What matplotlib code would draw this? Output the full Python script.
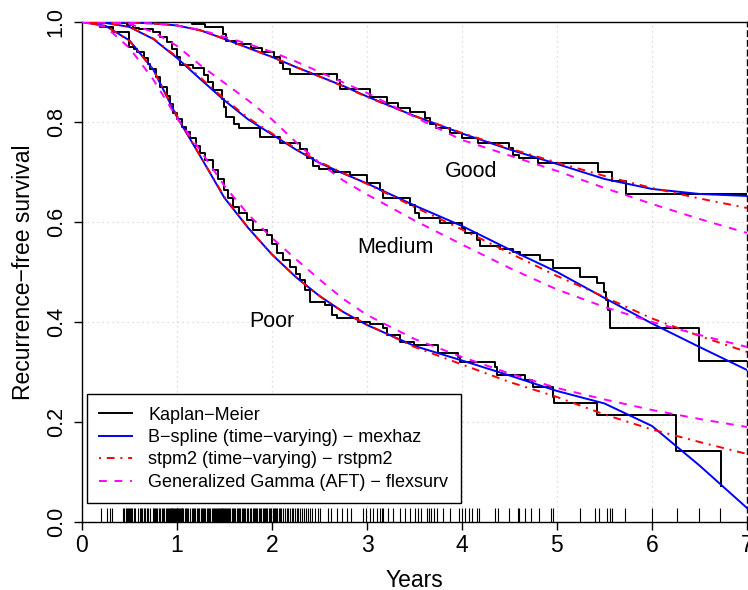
import numpy as np
import matplotlib.pyplot as plt

plt.rcParams['font.family'] = ['Liberation Sans', 'DejaVu Sans']

# Kaplan-Meier step curves (time, survival after the step)
km_good_t = [0, 1.16, 1.29, 1.48, 1.52, 1.62, 1.78, 1.9, 2.02, 2.08, 2.12, 2.19, 2.68, 2.72, 3.03, 3.21,
             3.33, 3.45, 3.61, 3.66, 3.73, 3.87, 4.0, 4.17, 4.49, 4.54, 4.6, 4.8, 5.43, 5.58, 5.73, 7.0]
km_good_s = [1.0, 0.996, 0.99, 0.975, 0.962, 0.955, 0.948, 0.94, 0.93, 0.918, 0.905, 0.895, 0.884, 0.866,
             0.85, 0.838, 0.828, 0.82, 0.808, 0.795, 0.788, 0.778, 0.768, 0.758, 0.748, 0.734, 0.728, 0.718,
             0.7, 0.682, 0.656, 0.656]

km_med_t = [0, 0.2, 0.47, 0.54, 0.6, 0.75, 0.82, 0.89, 0.95, 1.0, 1.03, 1.17, 1.28, 1.33, 1.38, 1.47, 1.5,
            1.52, 1.6, 1.65, 1.87, 2.08, 2.3, 2.37, 2.43, 2.5, 2.64, 2.82, 3.0, 3.14, 3.17, 3.45, 3.51, 3.55,
            3.77, 4.0, 4.03, 4.16, 4.19, 4.4, 4.54, 4.61, 4.82, 4.96, 5.24, 5.42, 5.5, 5.52, 5.54, 5.56,
            6.49, 7.0]
km_med_s = [1.0, 0.997, 0.993, 0.988, 0.985, 0.98, 0.97, 0.96, 0.945, 0.93, 0.914, 0.908, 0.894, 0.88,
            0.864, 0.845, 0.83, 0.81, 0.795, 0.788, 0.77, 0.758, 0.745, 0.728, 0.712, 0.705, 0.7, 0.694,
            0.678, 0.664, 0.648, 0.634, 0.618, 0.608, 0.598, 0.588, 0.578, 0.564, 0.552, 0.546, 0.54,
            0.534, 0.524, 0.508, 0.49, 0.478, 0.46, 0.444, 0.424, 0.388, 0.322, 0.322]

km_poor_t = [0, 0.19, 0.33, 0.49, 0.55, 0.58, 0.65, 0.7, 0.72, 0.78, 0.82, 0.89, 0.93, 0.96, 1.0, 1.05,
             1.1, 1.14, 1.2, 1.24, 1.3, 1.38, 1.43, 1.49, 1.54, 1.59, 1.65, 1.74, 1.8, 1.95, 2.0, 2.05,
             2.12, 2.19, 2.25, 2.29, 2.35, 2.4, 2.56, 2.63, 2.68, 2.91, 3.03, 3.17, 3.21, 3.35, 3.49,
             3.75, 3.96, 3.98, 4.35, 4.37, 4.66, 4.74, 4.75, 4.96, 4.97, 5.42, 6.25, 6.73]
km_poor_s = [1.0, 0.99, 0.98, 0.95, 0.945, 0.94, 0.928, 0.915, 0.905, 0.89, 0.87, 0.852, 0.835, 0.818,
             0.805, 0.79, 0.78, 0.768, 0.752, 0.738, 0.724, 0.704, 0.685, 0.664, 0.648, 0.63, 0.618,
             0.604, 0.584, 0.574, 0.556, 0.538, 0.524, 0.51, 0.495, 0.484, 0.464, 0.44, 0.434, 0.414,
             0.408, 0.4, 0.395, 0.388, 0.374, 0.36, 0.354, 0.338, 0.33, 0.32, 0.31, 0.294, 0.284, 0.278,
             0.27, 0.25, 0.238, 0.214, 0.141, 0.071]

# fitted model curves, read on a common time grid
fit_t = [0, 0.25, 0.5, 0.75, 1, 1.25, 1.5, 1.75, 2, 2.25, 2.5, 2.75, 3, 3.5, 4, 4.5, 5, 5.5, 6, 6.5, 7]

bspl_good = [1, 1, 0.999, 0.997, 0.993, 0.983, 0.966, 0.948, 0.93, 0.91, 0.891, 0.872, 0.851, 0.812,
             0.777, 0.745, 0.716, 0.686, 0.666, 0.656, 0.652]
bspl_med = [1, 0.998, 0.99, 0.966, 0.928, 0.885, 0.843, 0.805, 0.775, 0.745, 0.718, 0.697, 0.677, 0.633,
            0.592, 0.545, 0.5, 0.448, 0.397, 0.35, 0.304]
bspl_poor = [1, 0.992, 0.963, 0.905, 0.81, 0.73, 0.648, 0.588, 0.535, 0.49, 0.452, 0.42, 0.394, 0.352,
             0.323, 0.293, 0.262, 0.237, 0.192, 0.113, 0.028]

stpm_good = [1, 1, 0.999, 0.997, 0.993, 0.983, 0.966, 0.948, 0.93, 0.91, 0.891, 0.871, 0.85, 0.812,
             0.778, 0.747, 0.719, 0.692, 0.668, 0.647, 0.628]
stpm_med = [1, 0.998, 0.99, 0.967, 0.93, 0.888, 0.846, 0.808, 0.777, 0.747, 0.72, 0.698, 0.676, 0.63,
            0.585, 0.538, 0.492, 0.45, 0.407, 0.372, 0.34]
stpm_poor = [1, 0.992, 0.962, 0.905, 0.812, 0.73, 0.65, 0.588, 0.535, 0.49, 0.452, 0.42, 0.395, 0.35,
             0.315, 0.28, 0.25, 0.215, 0.185, 0.16, 0.136]

ggam_good = [1, 1, 0.999, 0.997, 0.993, 0.984, 0.97, 0.956, 0.94, 0.921, 0.9, 0.879, 0.858, 0.81,
             0.764, 0.733, 0.702, 0.668, 0.636, 0.606, 0.578]
ggam_med = [1, 0.999, 0.996, 0.98, 0.952, 0.913, 0.878, 0.843, 0.805, 0.76, 0.718, 0.683, 0.655, 0.603,
            0.555, 0.508, 0.465, 0.43, 0.4, 0.374, 0.35]
ggam_poor = [1, 0.99, 0.948, 0.885, 0.808, 0.742, 0.672, 0.615, 0.568, 0.526, 0.485, 0.446, 0.414,
             0.366, 0.33, 0.297, 0.268, 0.245, 0.224, 0.206, 0.19]

# event times shown as a rug
rug_t = [0.197, 0.26, 0.295, 0.319, 0.435, 0.447, 0.459, 0.47, 0.481, 0.493, 0.505, 0.518, 0.53, 0.544,
         0.558, 0.585, 0.61, 0.621, 0.632, 0.648, 0.663, 0.68, 0.698, 0.72, 0.744, 0.756, 0.768, 0.781,
         0.793, 0.807, 0.821, 0.838, 0.856, 0.868, 0.881, 0.895, 0.909, 0.917, 0.926, 0.935, 0.944,
         0.952, 0.961, 0.97, 0.979, 0.988, 0.996, 1.005, 1.014, 1.022, 1.031, 1.04, 1.049, 1.058, 1.067,
         1.081, 1.095, 1.107, 1.119, 1.137, 1.154, 1.166, 1.179, 1.193, 1.207, 1.221, 1.235, 1.248,
         1.26, 1.272, 1.284, 1.298, 1.312, 1.326, 1.34, 1.352, 1.365, 1.377, 1.389, 1.4, 1.41, 1.422,
         1.435, 1.444, 1.453, 1.462, 1.47, 1.479, 1.488, 1.497, 1.505, 1.514, 1.523, 1.537, 1.551,
         1.563, 1.575, 1.588, 1.6, 1.614, 1.628, 1.642, 1.656, 1.668, 1.681, 1.693, 1.705, 1.719,
         1.733, 1.75, 1.768, 1.782, 1.796, 1.808, 1.821, 1.834, 1.846, 1.86, 1.874, 1.888, 1.902,
         1.914, 1.926, 1.938, 1.951, 1.965, 1.979, 1.993, 2.007, 2.02, 2.032, 2.044, 2.056, 2.07,
         2.084, 2.1, 2.119, 2.136, 2.154, 2.172, 2.189, 2.207, 2.225, 2.242, 2.26, 2.278, 2.295,
         2.316, 2.337, 2.36, 2.382, 2.404, 2.425, 2.453, 2.48, 2.505, 2.593, 2.618, 2.681, 2.733,
         2.786, 2.828, 2.961, 2.989, 3.032, 3.067, 3.102, 3.137, 3.154, 3.172, 3.225, 3.277, 3.347,
         3.4, 3.453, 3.502, 3.537, 3.572, 3.632, 3.656, 3.677, 3.702, 3.737, 3.796, 3.877, 3.965, 4.0,
         4.035, 4.07, 4.105, 4.158, 4.175, 4.351, 4.379, 4.491, 4.589, 4.603, 4.667, 4.73, 4.807, 4.94,
         4.954, 5.246, 5.404, 5.439, 5.526, 5.561, 5.579, 5.719, 6.0, 6.263, 6.491, 6.72]

group_names = ['Good', 'Medium', 'Poor']
group_label_pos = [(4.1, 0.70), (3.3, 0.548), (2.0, 0.40)]

legend_labels = ['Kaplan\u2212Meier',
                 'B\u2212spline (time\u2212varying) \u2212 mexhaz',
                 'stpm2 (time\u2212varying) \u2212 rstpm2',
                 'Generalized Gamma (AFT) \u2212 flexsurv']

fig = plt.figure(figsize=(7.48, 5.90), dpi=100)
ax = fig.add_axes([0.1096, 0.1153, 0.889, 0.8475])

# grid
for gx in range(1, 7):
    ax.axvline(gx, color='lightgray', lw=0.9, ls=(0, (1, 3)), zorder=0)
for gy in [0.2, 0.4, 0.6, 0.8]:
    ax.axhline(gy, color='lightgray', lw=0.9, ls=(0, (1, 3)), zorder=0)

# rug of event times
ax.vlines(rug_t, 0, 0.028, color='black', lw=0.8, zorder=1)

for kt, ks in [(km_good_t, km_good_s), (km_med_t, km_med_s), (km_poor_t, km_poor_s)]:
    ax.step(kt, ks, where='post', color='black', lw=1.4, zorder=2)
for curve in [bspl_good, bspl_med, bspl_poor]:
    ax.plot(fit_t, curve, color='#0000FF', lw=1.4, zorder=3)
for curve in [stpm_good, stpm_med, stpm_poor]:
    ax.plot(fit_t, curve, color='#FF0000', lw=1.4, dashes=(1, 3, 4, 3), zorder=4)
for curve in [ggam_good, ggam_med, ggam_poor]:
    ax.plot(fit_t, curve, color='#FF00FF', lw=1.4, dashes=(4, 4), zorder=5)

for name, (tx, ty) in zip(group_names, group_label_pos):
    ax.text(tx, ty, name, fontsize=15.5, ha='center', va='center')

ax.set_xlim(0, 7)
ax.set_ylim(0, 1)
ax.set_xticks(range(0, 8))
ax.set_yticks([0.0, 0.2, 0.4, 0.6, 0.8, 1.0])
ax.set_yticklabels(['0.0', '0.2', '0.4', '0.6', '0.8', '1.0'])
ax.tick_params(axis='both', direction='out', length=6, width=1)
ax.tick_params(axis='x', pad=3, labelsize=16.5)
ax.tick_params(axis='y', pad=5, labelsize=15.5)
for lab in ax.get_yticklabels():
    lab.set_rotation(90)
    lab.set_va('center')

for side in ['left', 'bottom', 'top', 'right']:
    ax.spines[side].set_linewidth(1.0)
ax.spines['right'].set_linestyle((0, (4, 3)))

ax.set_xlabel('Years', fontsize=16.5)
ax.set_ylabel('Recurrence\u2212free survival', fontsize=16.5)
ax.xaxis.set_label_coords(0.5, -0.094)
ax.yaxis.set_label_coords(-0.07, 0.5)

handles = [plt.Line2D([], [], color='black', lw=1.4),
           plt.Line2D([], [], color='#0000FF', lw=1.4),
           plt.Line2D([], [], color='#FF0000', lw=1.4, dashes=(1, 3, 4, 3)),
           plt.Line2D([], [], color='#FF00FF', lw=1.4, dashes=(4, 4))]
leg = ax.legend(handles, legend_labels, loc='lower left', bbox_to_anchor=(0.05 / 7, 0.037),
                fontsize=13, frameon=True, fancybox=False, framealpha=1, edgecolor='black',
                handlelength=1.8, handletextpad=0.9, labelspacing=0.3, borderpad=0.7,
                borderaxespad=0)
leg.get_frame().set_linewidth(1.0)

fig.savefig('out.png', dpi=100)
